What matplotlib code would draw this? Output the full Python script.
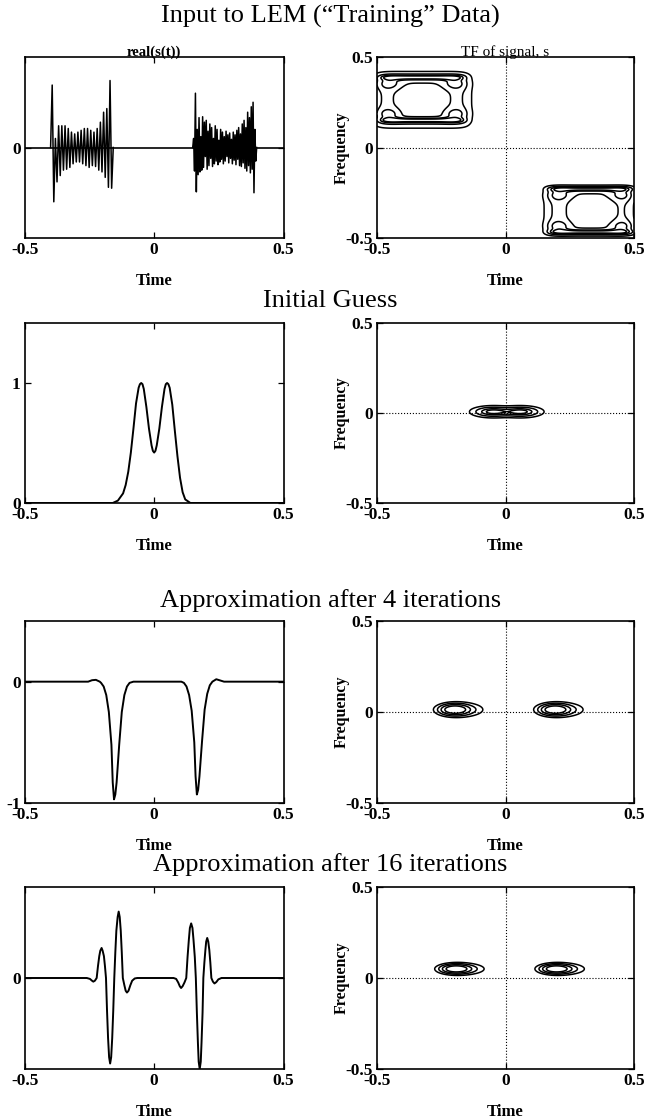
import numpy as np
import matplotlib
matplotlib.use('Agg')
import matplotlib.pyplot as plt

plt.rcParams['font.family'] = ['Liberation Serif', 'DejaVu Serif']
plt.rcParams['axes.unicode_minus'] = False

# ---- row titles ----
row_titles = [
    'Input to LEM (\u201cTraining\u201d Data)',
    'Initial Guess',
    'Approximation after 4 iterations',
    'Approximation after 16 iterations',
]

# ---- row 1: input signal, real part (peak values) ----
burst1_span = (-0.400, -0.158)
burst1_vals = [0, 0.69, -0.60, 0.10, -0.38, 0.24, -0.31, 0.24, -0.25, 0.24,
               -0.24, 0.21, -0.22, 0.17, -0.18, 0.15, -0.16, 0.17, -0.16, 0.19,
               -0.18, 0.21, -0.20, 0.21, -0.22, 0.19, -0.20, 0.17, -0.21, 0.21,
               -0.25, 0.28, -0.27, 0.39, -0.33, 0.43, -0.44, 0.74, -0.45, 0]
burst2_span = (0.149, 0.396)
burst2_vals = [0, 0.10, -0.26, 0.60, -0.49, 0.20, -0.30, 0.33, -0.27, 0.12,
               -0.25, 0.34, -0.22, 0.28, -0.10, 0.30, -0.24, 0.18, -0.20, 0.26,
               -0.12, 0.22, -0.21, 0.10, -0.18, 0.24, -0.15, 0.20, -0.19, 0.08,
               -0.16, 0.20, -0.13, 0.17, -0.18, 0.12, -0.15, 0.18, -0.10, 0.14,
               -0.17, 0.16, -0.12, 0.09, -0.18, 0.17, -0.14, 0.14, -0.19, 0.19,
               -0.13, 0.22, -0.20, 0.15, -0.21, 0.26, -0.17, 0.30, -0.23, 0.22,
               -0.26, 0.39, -0.20, 0.33, -0.28, 0.45, -0.24, 0.50, -0.50, 0.20,
               -0.15, 0]

# ---- row 2: initial guess ----
guess_t = [-0.5, -0.16, -0.14, -0.12, -0.11, -0.10, -0.09, -0.08, -0.07, -0.06,
           -0.055, -0.05, -0.045, -0.04, -0.03, -0.02, -0.01, -0.005, 0.0, 0.005,
           0.01, 0.02, 0.03, 0.04, 0.045, 0.05, 0.055, 0.06, 0.07, 0.08,
           0.09, 0.10, 0.11, 0.12, 0.14, 0.5]
guess_y = [0, 0, 0.02, 0.08, 0.15, 0.26, 0.42, 0.62, 0.83, 0.96,
           0.99, 1.0, 0.99, 0.95, 0.80, 0.62, 0.48, 0.435, 0.42, 0.435,
           0.48, 0.62, 0.80, 0.95, 0.99, 1.0, 0.99, 0.96, 0.82, 0.60,
           0.39, 0.21, 0.09, 0.03, 0.0, 0]

# ---- row 3: after 4 iterations ----
iter4_t = [-0.5, -0.255, -0.24, -0.225, -0.21, -0.205, -0.195, -0.185, -0.175, -0.165,
           -0.16, -0.155, -0.15, -0.145, -0.135, -0.125, -0.115, -0.105, -0.095, -0.08,
           -0.07, 0.09, 0.105, 0.115, 0.125, 0.135, 0.145, 0.155, 0.16, 0.165,
           0.17, 0.175, 0.185, 0.195, 0.205, 0.215, 0.225, 0.24, 0.255, 0.27, 0.5]
iter4_y = [0, 0, 0.012, 0.015, 0.0, -0.01, -0.04, -0.11, -0.25, -0.52,
           -0.83, -0.97, -0.93, -0.83, -0.52, -0.25, -0.11, -0.04, -0.01, 0.0,
           0, 0, 0.0, -0.01, -0.04, -0.11, -0.24, -0.50, -0.78, -0.93,
           -0.89, -0.78, -0.49, -0.23, -0.10, -0.03, 0.0, 0.02, 0.01, 0, 0]

# ---- row 4: after 16 iterations ----
iter16_t = [-0.5, -0.26, -0.248, -0.240, -0.235, -0.229, -0.222, -0.217, -0.212, -0.208,
            -0.203, -0.199, -0.194, -0.190, -0.186, -0.182, -0.178, -0.174, -0.170, -0.166,
            -0.162, -0.158, -0.154, -0.150, -0.146, -0.141, -0.137, -0.133, -0.129, -0.125,
            -0.121, -0.115, -0.110, -0.105, -0.099, -0.092, -0.085, -0.075, -0.065,
            0.075, 0.085, 0.093, 0.099, 0.104, 0.110, 0.117, 0.124, 0.129, 0.134,
            0.138, 0.143, 0.148, 0.152, 0.157, 0.161, 0.165, 0.169, 0.172, 0.176,
            0.180, 0.183, 0.187, 0.190, 0.194, 0.198, 0.201, 0.205, 0.209, 0.213,
            0.217, 0.221, 0.227, 0.233, 0.240, 0.248, 0.26, 0.5]
iter16_y = [0, 0, -0.01, -0.03, -0.04, -0.03, 0.0, 0.13, 0.24, 0.30,
            0.33, 0.30, 0.24, 0.13, 0.0, -0.36, -0.66, -0.87, -0.94, -0.87,
            -0.66, -0.36, 0.0, 0.28, 0.52, 0.67, 0.73, 0.67, 0.52, 0.28,
            0.0, -0.08, -0.14, -0.16, -0.14, -0.08, -0.03, -0.005, 0,
            0, -0.01, -0.05, -0.09, -0.11, -0.09, -0.05, 0.0, 0.23, 0.42,
            0.55, 0.60, 0.55, 0.42, 0.23, 0.0, -0.38, -0.71, -0.92, -1.0,
            -0.92, -0.71, -0.38, 0.0, 0.17, 0.31, 0.40, 0.44, 0.40, 0.31,
            0.17, 0.0, -0.04, -0.06, -0.045, -0.015, 0, 0]

left_yticks = [[0], [0, 1], [-1, 0], [0]]
left_ylims = [(-1, 1), (0, 1.5), (-1, 0.5), (-1, 1)]

# ---- time-frequency components: (t, f, width_t, width_f, amp, power_t, power_f) ----
tf_input = [
    # upper-left box: body, inner hollow, top/bottom ridges, corner lobes
    (-0.325, 0.263, 0.170, 0.138, 1.0, 8, 8),
    (-0.325, 0.254, 0.095, 0.087, -0.6, 4, 4),
    (-0.325, 0.388, 0.150, 0.010, 1.2, 8, 2),
    (-0.325, 0.150, 0.150, 0.010, 1.2, 8, 2),
    (-0.455, 0.352, 0.030, 0.022, 0.7, 2, 2),
    (-0.195, 0.352, 0.030, 0.022, 0.7, 2, 2),
    (-0.455, 0.186, 0.030, 0.022, 0.7, 2, 2),
    (-0.195, 0.186, 0.030, 0.022, 0.7, 2, 2),
    # lower-right box
    (0.324, -0.350, 0.153, 0.117, 1.0, 8, 8),
    (0.335, -0.354, 0.085, 0.080, -0.6, 4, 4),
    (0.330, -0.228, 0.150, 0.010, 1.3, 8, 2),
    (0.330, -0.468, 0.150, 0.010, 1.3, 8, 2),
    (0.205, -0.262, 0.030, 0.022, 0.7, 2, 2),
    (0.455, -0.262, 0.030, 0.022, 0.7, 2, 2),
    (0.205, -0.435, 0.030, 0.022, 0.7, 2, 2),
    (0.455, -0.435, 0.030, 0.022, 0.7, 2, 2),
]
tf_guess = [
    (-0.050, 0.007, 0.042, 0.016, 1.0, 2, 2),
    (0.060, 0.007, 0.042, 0.016, 1.0, 2, 2),
]
tf_iter4 = [
    (-0.200, 0.013, 0.032, 0.017, 1.0, 2, 2),
    (-0.175, 0.013, 0.050, 0.022, 0.35, 2, 2),
    (0.190, 0.013, 0.032, 0.017, 1.0, 2, 2),
    (0.215, 0.013, 0.050, 0.022, 0.35, 2, 2),
]
tf_iter16 = [
    (-0.195, 0.050, 0.032, 0.014, 1.0, 2, 2),
    (-0.170, 0.050, 0.050, 0.018, 0.35, 2, 2),
    (0.195, 0.050, 0.032, 0.014, 1.0, 2, 2),
    (0.220, 0.050, 0.050, 0.018, 0.35, 2, 2),
]
tf_levels = [
    [0.25, 0.75, 1.25, 1.6],
    [0.1, 0.3, 0.6, 0.85],
    [0.08, 0.2, 0.4, 0.7],
    [0.08, 0.2, 0.4, 0.7],
]


def tf_field(T, F, comps):
    Z = np.zeros_like(T)
    for t0, f0, st, sf, amp, pt, pf in comps:
        Z += amp * np.exp(-0.5 * (np.abs((T - t0) / st) ** pt + np.abs((F - f0) / sf) ** pf))
    return Z


def style_axes(ax, yt, ylbl=None):
    ax.set_xlim(-0.5, 0.5)
    ax.set_xticks([-0.5, 0, 0.5], ['-0.5', '0', '0.5'])
    ax.set_yticks(yt, [f'{v:g}' for v in yt])
    ax.tick_params(direction='in', top=True, right=True, length=4, width=0.9,
                   labelsize=12.5, pad=3)
    for lab in ax.get_xticklabels() + ax.get_yticklabels():
        lab.set_fontweight('bold')
    for sp in ax.spines.values():
        sp.set_linewidth(1.2)
    ax.set_xlabel('Time', fontsize=12, fontweight='bold', labelpad=11)
    if ylbl:
        ax.set_ylabel(ylbl, fontsize=11.5, fontweight='bold')
        ax.yaxis.set_label_coords(-0.105, 0.5)


fig = plt.figure(figsize=(6.46, 11.2), dpi=100)
W, H = 646.0, 1120.0
rows_px = [(57, 238), (323, 503), (621, 803), (887, 1069)]
title_px = [16, 301, 601, 865]
left_px = (24.7, 283.6)
right_px = (377.0, 634.0)

left_series = [None,
               (guess_t, guess_y),
               (iter4_t, iter4_y),
               (iter16_t, iter16_y)]
tf_comps = [tf_input, tf_guess, tf_iter4, tf_iter16]

tg = np.linspace(-0.5, 0.5, 600)
fg = np.linspace(-0.5, 0.5, 600)
T, F = np.meshgrid(tg, fg)

for i, (top, bot) in enumerate(rows_px):
    fig.text(0.511, 1 - title_px[i] / H, row_titles[i], ha='center', va='center',
             fontsize=19)
    b = 1 - bot / H
    h = (bot - top) / H
    axl = fig.add_axes([left_px[0] / W, b, (left_px[1] - left_px[0]) / W, h])
    axr = fig.add_axes([right_px[0] / W, b, (right_px[1] - right_px[0]) / W, h])

    # left: signal
    if i == 0:
        axl.plot([-0.5, 0.5], [0, 0], color='black', lw=1.2)
        for span, vals in ((burst1_span, burst1_vals), (burst2_span, burst2_vals)):
            ts = np.linspace(span[0], span[1], len(vals))
            axl.plot(ts, vals, color='black', lw=1.1)
        axl.set_title('real(s(t))', fontsize=10.5, fontweight='bold', pad=1)
    else:
        xs, ys = left_series[i]
        axl.plot(xs, ys, color='black', lw=1.4)
    axl.set_ylim(*left_ylims[i])
    style_axes(axl, left_yticks[i])

    # right: time-frequency contours
    Z = tf_field(T, F, tf_comps[i])
    axr.contour(T, F, Z, levels=tf_levels[i], colors='black', linewidths=1.1)
    axr.axhline(0, color='black', lw=0.8, ls=':')
    axr.axvline(0, color='black', lw=0.8, ls=':')
    axr.set_ylim(-0.5, 0.5)
    style_axes(axr, [-0.5, 0, 0.5], ylbl='Frequency')
    if i == 0:
        axr.set_title('TF of signal, s', fontsize=11, pad=1)

fig.savefig('out.png', dpi=100)
